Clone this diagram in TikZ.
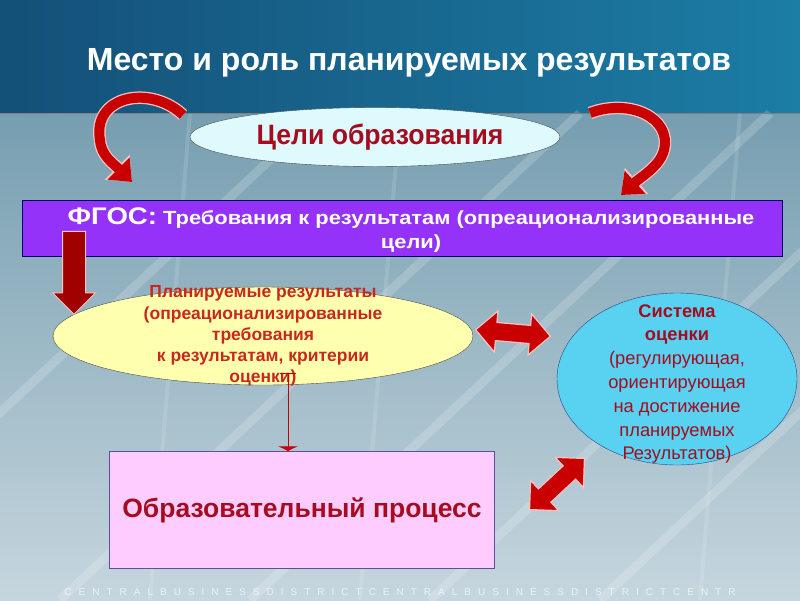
\documentclass[tikz,border=0pt]{standalone}
\usepackage{fontspec}
\setmainfont{Liberation Sans}
\newfontfamily\narrowfont[FakeStretch=0.95]{Liberation Sans}
\newfontfamily\widefont[FakeStretch=1.15]{Liberation Sans}
\usetikzlibrary{arrows.meta,shapes.geometric,shapes.arrows,positioning}

\definecolor{bandtop}{RGB}{20,80,120}
\definecolor{bandmid}{RGB}{28,125,165}
\definecolor{skyA}{RGB}{118,158,176}
\definecolor{skyB}{RGB}{198,214,222}
\definecolor{goalfill}{RGB}{222,250,252}
\definecolor{titlered}{RGB}{165,12,32}
\definecolor{fgospurple}{RGB}{148,50,250}
\definecolor{arrowred}{RGB}{200,0,0}
\definecolor{darkred}{RGB}{160,0,0}
\definecolor{arrowrim}{RGB}{250,195,195}
\definecolor{planfill}{RGB}{255,255,176}
\definecolor{plantext}{RGB}{200,40,30}
\definecolor{evalfill}{RGB}{88,210,240}
\definecolor{evalrim}{RGB}{40,70,140}
\definecolor{procfill}{RGB}{255,204,255}
\definecolor{procrim}{RGB}{90,80,160}

\tikzset{
  titletxt/.style={text=white, font=\bfseries\fontsize{32}{36}\selectfont},
  goalell/.style={ellipse, draw=black!70, fill=goalfill, minimum width=370pt,
    minimum height=59pt, inner sep=0pt},
  goaltxt/.style={text=titlered, font=\narrowfont\bfseries\fontsize{28}{30}\selectfont},
  fgosbar/.style={rectangle, draw=black!60!blue, fill=fgospurple, minimum width=760pt,
    minimum height=56pt, inner sep=0pt},
  fgostxt/.style={text=white, align=center,
    font=\widefont\bfseries\fontsize{19}{24}\selectfont},
  planell/.style={ellipse, draw=black!70, fill=planfill, minimum width=420pt,
    minimum height=98pt, inner sep=0pt},
  plantxt/.style={align=center, text=plantext, font=\bfseries\fontsize{17.5}{21.2}\selectfont},
  evalell/.style={ellipse, draw=evalrim, fill=evalfill, minimum width=240pt,
    minimum height=172pt, inner sep=0pt},
  evaltxt/.style={align=center, text=titlered, font=\fontsize{18.3}{23.8}\selectfont},
  procbox/.style={rectangle, draw=procrim, fill=procfill, minimum width=385pt,
    minimum height=117pt, inner sep=0pt, text=titlered,
    font=\bfseries\fontsize{26.5}{30}\selectfont},
  curvearrow/.style={line width=10pt, arrowred, -{Triangle[width=30pt,length=19pt]},
    preaction={draw=arrowrim, line width=12.5pt, -{Triangle[width=34pt,length=21pt]}}},
  downarrow/.style={single arrow, draw=arrowrim, fill=darkred, line width=1pt,
    minimum height=83pt, single arrow head extend=10pt,
    inner xsep=0pt, inner ysep=11pt, rotate=-90},
  dblarrow/.style={double arrow, draw=arrowrim, fill=arrowred, line width=1.2pt,
    minimum height=75pt, double arrow head extend=11.5pt,
    inner xsep=0pt, inner ysep=8.5pt},
  thinlink/.style={draw=arrowred, line width=1pt,
    {Bar[width=16pt]}-{Latex[width=22pt,length=5pt]}}
}

\begin{document}
\begin{tikzpicture}[x=1pt,y=-1pt]
  \useasboundingbox (0,0) rectangle (800,600);

  % background
  \shade[top color=skyA, bottom color=skyB] (0,113) rectangle (800,600);
  \shade[left color=bandtop, right color=bandmid] (0,0) rectangle (800,113);
  \foreach \s in {-200,60,250,430,600}
    \draw[white, opacity=0.18, line width=9pt] (\s,600) -- (\s+520,113);
  \foreach \s in {150,360,700}
    \draw[white, opacity=0.12, line width=4pt] (\s,600) -- (\s+40,113);
  \draw[black!50, line width=1pt] (0,113) -- (800,113);
  \node[white, opacity=0.7, font=\fontsize{10}{11}\selectfont\addfontfeatures{LetterSpace=70}]
    (band) at (400,592) {CENTRALBUSINESSDISTRICTCENTRALBUSINESSDISTRICTCENTR};

  % title
  \node[titletxt, anchor=base] (title) at (409,70) {Место и роль планируемых результатов};

  % main blocks
  \node[goalell] (goals) at (375,137) {};
  \node[goaltxt] (goaltext) at ([xshift=5pt]goals.center) {Цели образования};
  \node[fgosbar] (fgos) at (402,228) {};
  \node[fgostxt] (fgostext) at ([xshift=9pt,yshift=-2pt]fgos.center)
    {{\fontsize{24}{24}\selectfont ФГОС:} Требования к результатам (опреационализированные\\цели)};
  \node[planell] (plan) at (263,336) {};
  \node[plantxt] (plantext) at (plan.center)
    {Планируемые результаты\\(опреационализированные\\требования\\к результатам, критерии\\оценки)};
  \node[evalell] (evals) at (677,379) {};
  \node[evaltxt] (evaltext) at ([yshift=-5pt]evals.center)
    {\textbf{Система}\\\textbf{оценки}\\(регулирующая,\\ориентирующая\\на достижение\\планируемых\\Результатов)};
  \node[procbox] (proc) at (302,510) {Образовательный процесс};

  % curved arrows from the goals down to the bar
  \coordinate (lefttail) at (183,115);
  \coordinate (lefthead) at (132,182);
  \coordinate (righttail) at (590,113);
  \coordinate (righthead) at (621,195);
  \draw[curvearrow] (lefttail) .. controls (150,84) and (92,96) .. (100,140)
    .. controls (101,156) and (114,164) .. (lefthead);
  \draw[curvearrow] (righttail) .. controls (630,98) and (672,118) .. (664,150)
    .. controls (660,166) and (642,176) .. (righthead);

  % block arrows
  \node[downarrow] (fgosdown) at (74,267) {};
  \node[dblarrow, rotate=-5] (planeval) at (513,333) {};
  \node[dblarrow, rotate=43] (proceval) at (557,484) {};

  % thin link from the plan to the process
  \coordinate (linktop) at (288,373);
  \draw[thinlink] (linktop) -- (linktop |- proc.north);

\end{tikzpicture}
\end{document}
